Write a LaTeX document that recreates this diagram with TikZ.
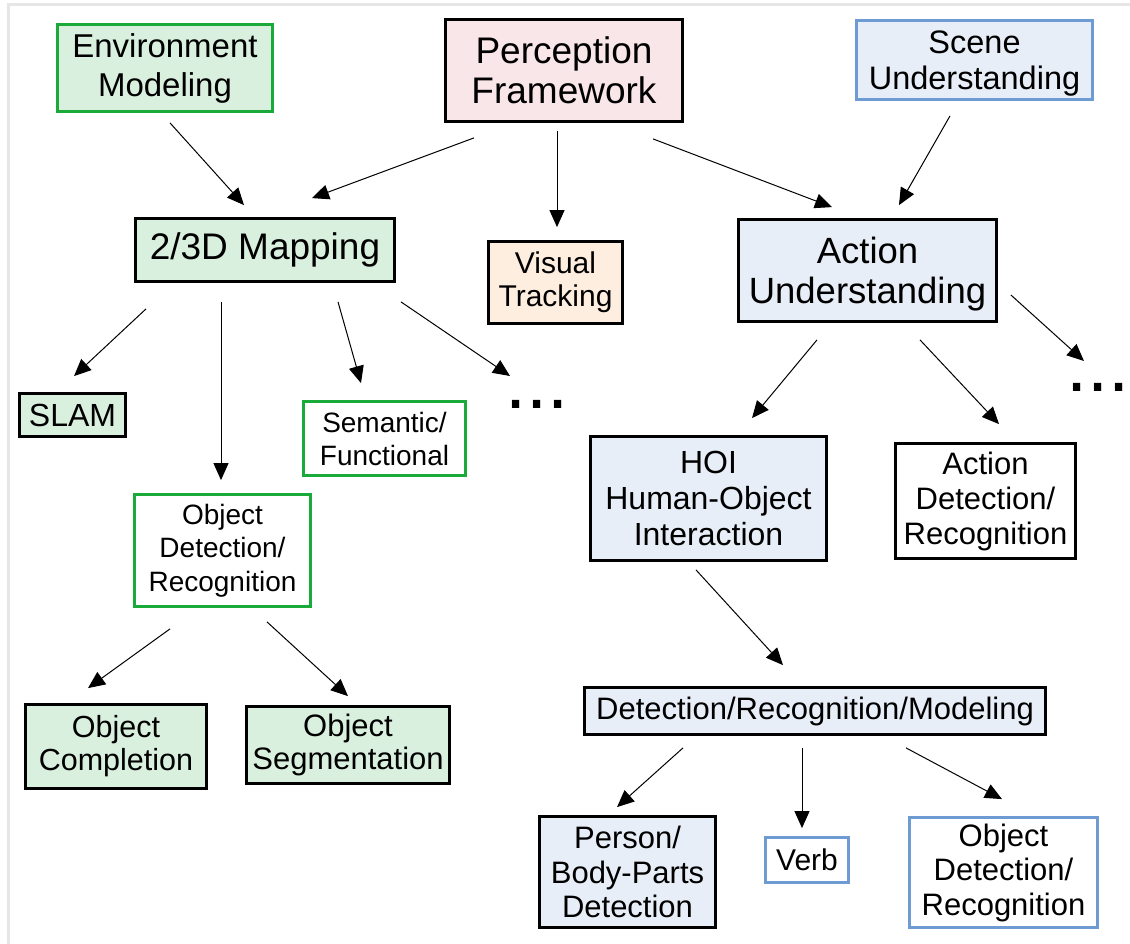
\documentclass[tikz,border=0pt]{standalone}
\usepackage{fontspec}
\setmainfont{Liberation Sans}
\usetikzlibrary{arrows.meta,calc}

\definecolor{lgreen}{RGB}{217,240,223}
\definecolor{dgreen}{RGB}{26,170,58}
\definecolor{lpink}{RGB}{249,230,233}
\definecolor{lblue}{RGB}{232,238,247}
\definecolor{mblue}{RGB}{110,156,210}
\definecolor{lorange}{RGB}{253,238,224}
\definecolor{framegray}{RGB}{230,230,230}

\newcommand{\setfs}[2]{\fontsize{#1}{#2}\selectfont}
% pad the top of a first line so that the text block sits a little lower
\newcommand{\toppad}[2]{\raisebox{0pt}[\dimexpr\height+#1\relax]{#2}}

\begin{document}
\begin{tikzpicture}[x=1pt,y=-1pt,
  box/.style={rectangle, draw=black, line width=2.8pt, align=center,
              inner sep=0pt, text=black},
  greenfill/.style={box, fill=lgreen},
  greenline/.style={box, draw=dgreen, fill=white},
  bluefill/.style={box, fill=lblue},
  blueline/.style={box, draw=mblue, fill=white},
  arr/.style={-{Triangle[length=17pt,width=15pt]}, line width=1pt, draw=black},
  dots/.style={inner sep=0pt, anchor=base west, font=\setfs{76}{76}}
]
\useasboundingbox (0,0) rectangle (1130,944);
\fill[white] (0,0) rectangle (1130,944);
\draw[framegray, line width=3pt] (8.5,944) -- (8.5,4.5) -- (1130,4.5);

% top row
\node[greenfill, draw=dgreen, minimum width=215, minimum height=87,
      font=\setfs{33}{39}] (env) at (165,68) {Environment\\Modeling};
\node[box, fill=lpink, minimum width=237, minimum height=102,
      font=\setfs{37}{40}] (perc) at (564,70.5) {Perception\\Framework};
\node[bluefill, draw=mblue, minimum width=236, minimum height=79,
      font=\setfs{32.5}{36}] (scene) at (974.5,60) {\toppad{8pt}{Scene}\\Understanding};

% second row
\node[greenfill, minimum width=259, minimum height=63,
      font=\setfs{37}{40}] (map) at (265,250) {2/3D Mapping};
\node[box, fill=lorange, minimum width=134, minimum height=82,
      font=\setfs{30}{33}] (vis) at (555.5,282.5) {Visual\\Tracking};
\node[bluefill, minimum width=258, minimum height=102,
      font=\setfs{36.5}{40}] (act) at (867.5,270.5) {\toppad{8pt}{Action}\\Understanding};

% mapping branch
\node[greenfill, minimum width=106, minimum height=43,
      font=\setfs{32}{36}] (slam) at (72.5,415) {SLAM};
\node[greenline, minimum width=162, minimum height=74,
      font=\setfs{28}{33}] (sem) at (384.5,438.5) {Semantic/\\Functional};
\node[dots] (dotsL) at (505,408) {...};
\node[greenline, minimum width=176, minimum height=112,
      font=\setfs{28}{33.5}] (odg) at (222.5,550.5) {Object\\Detection/\\Recognition};
\node[greenfill, minimum width=181, minimum height=84,
      font=\setfs{30.5}{33}] (comp) at (116,746.5) {Object\\Completion};
\node[greenfill, minimum width=203, minimum height=77,
      font=\setfs{31}{33}] (seg) at (348,745) {Object\\Segmentation};

% action branch
\node[dots] (dotsR) at (1066,391) {...};
\node[bluefill, minimum width=236, minimum height=124,
      font=\setfs{32}{36}] (hoi) at (708.5,498.5) {HOI\\Human-Object\\Interaction};
\node[box, fill=white, minimum width=180, minimum height=115,
      font=\setfs{31}{35}] (actdet) at (985.5,501) {Action\\Detection/\\Recognition};
\node[bluefill, minimum width=461, minimum height=47,
      font=\setfs{31}{34}] (drm) at (815,711) {Detection/Recognition/Modeling};
\node[bluefill, minimum width=176, minimum height=111,
      font=\setfs{31}{34.5}] (person) at (627.5,872) {Person/\\Body-Parts\\Detection};
\node[blueline, minimum width=83, minimum height=45,
      font=\setfs{30}{34}] (verb) at (807,860) {Verb};
\node[blueline, minimum width=188, minimum height=110,
      font=\setfs{31}{34.5}] (odb) at (1003.5,872.5) {Object\\Detection/\\Recognition};

% connectors from the top row
\draw[arr] ($(env.south)+(5,10)$) -- ($(map.north)+(-21,-12)$);
\draw[arr] ($(perc.south)+(-90,15)$) -- ($(map.north)+(47,-19)$);
\draw[arr] ($(perc.south)+(-7,8)$) -- ($(vis.north)+(1.5,-13)$);
\draw[arr] ($(perc.south)+(89,16)$) -- ($(act.north)+(-35.5,-11)$);
\draw[arr] ($(scene.south)+(-24.5,15)$) -- ($(act.north)+(31.5,-13)$);

% connectors from 2/3D Mapping
\draw[arr] ($(map.south)+(-119,26)$) -- ($(slam.north)+(1.5,-16)$);
\draw[arr] ($(map.south)+(-44,19)$) -- ($(odg.north)+(-1.5,-13)$);
\draw[arr] ($(map.south)+(73,19)$) -- ($(sem.north)+(-23.5,-17)$);
\draw[arr] ($(map.south)+(136,19)$) -- ($(dotsL.base west)+(5,-32)$);

% connectors from Object Detection/Recognition
\draw[arr] ($(odg.south)+(-52.5,21)$) -- ($(comp.north)+(-28,-15)$);
\draw[arr] ($(odg.south)+(44.5,14)$) -- ($(seg.north)+(0,-9)$);

% connectors from Action Understanding
\draw[arr] ($(act.south)+(-50.5,17)$) -- ($(hoi.north)+(43.5,-17)$);
\draw[arr] ($(act.south)+(52.5,17)$) -- ($(actdet.north)+(13.5,-18)$);
\draw[arr] ($(act.east)+(13,24.5)$) -- ($(dotsR.base west)+(18,-30)$);

% HOI chain
\draw[arr] ($(hoi.south)+(-12.5,8)$) -- ($(drm.north)+(-32,-21)$);
\draw[arr] ($(drm.south)+(-132,12)$) -- ($(person.north)+(-10.5,-8)$);
\draw[arr] ($(drm.south)+(-13,12)$) -- ($(verb.north)+(-5,-8)$);
\draw[arr] ($(drm.south)+(91,12)$) -- ($(odb.north)+(-1.5,-17)$);
\end{tikzpicture}
\end{document}
